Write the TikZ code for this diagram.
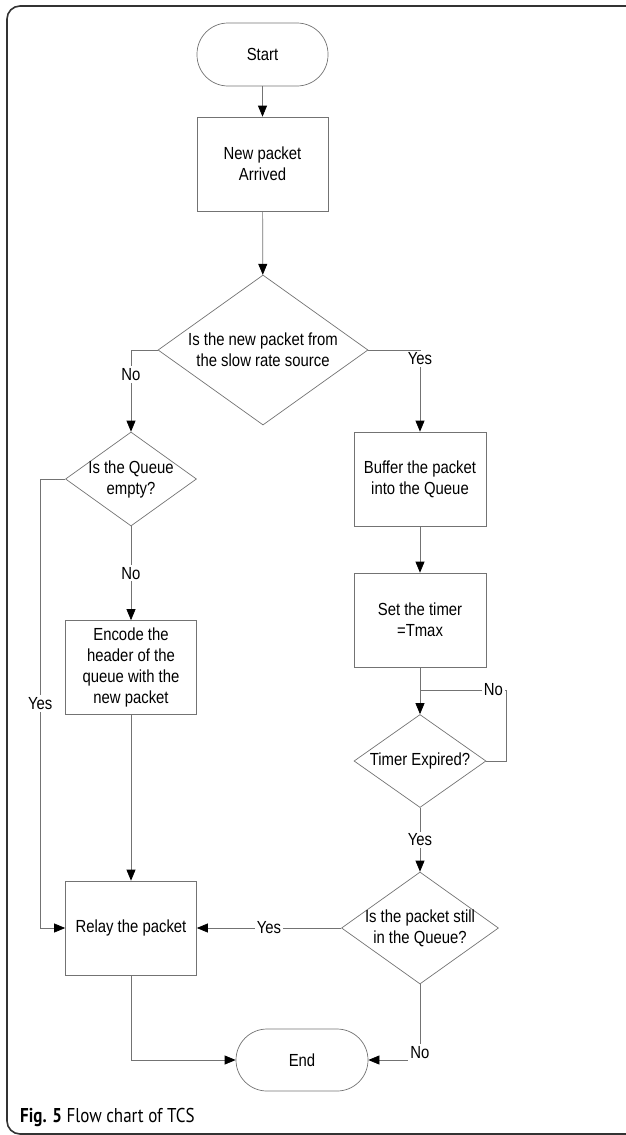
\documentclass[tikz,border=0pt]{standalone}
\usepackage{fontspec}
\usepackage{tikz}
\usetikzlibrary{arrows.meta,shapes.geometric}
\newfontfamily\chartfont[FakeStretch=0.85]{Liberation Sans}
\newfontfamily\capfont[FakeStretch=0.85]{PT Sans}
\tikzset{
	every node/.style={font=\chartfont\fontsize{17.5}{21}\selectfont},
	process/.style={draw=black!55, line width=0.7pt, minimum width=131pt, minimum height=94pt, align=center, inner sep=2pt},
	terminal/.style={draw=black!55, line width=0.7pt, rounded corners=31pt, minimum width=131pt, minimum height=63pt, align=center},
	decision/.style={diamond, draw=black!55, line width=0.7pt, align=center, inner sep=-3pt, aspect=1.4},
	conn/.style={draw=black!55, line width=0.7pt},
	arrow/.style={conn, -{Triangle[length=11pt,width=9pt,color=black]}},
	answer/.style={fill=white, inner sep=2pt}
}

\begin{document}
\begin{tikzpicture}[x=1pt, y=-1pt]
			%%%%% START %%%%%
			\useasboundingbox (0,0) rectangle (625,1135);
			
			% frame
			\draw[line width=1.6pt, color=black!80, rounded corners=13pt] (7,1134) rectangle (720,6);
			
			\node[terminal] (start) at (262.5, 54.5) {Start};
			\node[process] (arrived) at (262.5, 164) {New packet\\Arrived};
			\node[decision, minimum width=210pt, minimum height=150pt] (slow) at (263, 350) {Is the new packet from\\the slow rate source};
			
			\node[decision, minimum width=131pt, minimum height=94pt] (empty) at (131, 479) {Is the Queue\\empty?};
			\node[process] (encode) at (131, 667.5) {Encode the\\header of the\\queue with the\\new packet};
			\node[process] (relay) at (131, 928) {Relay the packet};
			
			\node[process, minimum width=132pt] (buffer) at (420, 479) {Buffer the packet\\into the Queue};
			\node[process, minimum width=132pt] (timer) at (420, 620) {Set the timer\\=Tmax};
			\node[decision, minimum width=132pt, minimum height=93pt] (expired) at (420, 761) {Timer Expired?};
			\node[decision, minimum width=157pt, minimum height=112pt] (still) at (420, 928) {Is the packet still\\in the Queue?};
			
			\node[terminal, minimum width=132pt, minimum height=62pt] (end) at (302, 1060) {End};
			\coordinate (wait) at (420, 690);
			
			\draw[arrow] (start) -- (arrived);
			\draw[arrow] (arrived) -- (slow);
			\draw[arrow] (slow.west) -| node[answer, pos=0.65] {No} (empty.north);
			\draw[arrow] (slow.east) -| node[answer, pos=0.555] {Yes} (buffer.north);
			\draw[arrow] (empty.west) -- ++(-25,0) |- node[answer, pos=0.25] {Yes} (relay.west);
			\draw[arrow] (empty) -- node[answer] {No} (encode);
			\draw[arrow] (encode) -- (relay);
			\draw[arrow] (buffer) -- (timer);
			\draw[arrow] (timer) -- (expired);
			\draw[conn] (expired.east) -- ++(20,0) |- node[answer, pos=0.575] {No} (wait);
			\draw[arrow] (expired) -- node[answer] {Yes} (still);
			\draw[arrow] (still) -- node[answer] {Yes} (relay);
			\draw[arrow] (still.south) |- node[answer, pos=0.45] {No} (end.east);
			\draw[arrow] (relay.south) |- (end.west);
			
			\node[anchor=base west, inner sep=0pt, font=\capfont\fontsize{20}{24}\selectfont] (caption) at (20, 1122) {\textbf{Fig. 5} Flow chart of TCS};
			%%%%% END %%%%%
\end{tikzpicture}
\end{document}
